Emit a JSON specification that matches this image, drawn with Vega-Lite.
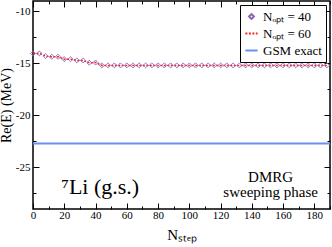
{
  "$schema": "https://vega.github.io/schema/vega-lite/v6.json",
  "width": 297,
  "height": 208,
  "autosize": {"type": "none"},
  "padding": {"left": 33, "top": 1, "right": 2, "bottom": 38},
  "background": "white",
  "config": {
    "view": {"stroke": "black", "strokeWidth": 1.5},
    "font": "Liberation Serif",
    "axis": {"labelFont": "Liberation Serif", "titleFont": "Liberation Serif", "labelColor": "black", "titleColor": "black", "tickColor": "black", "domainColor": "black", "grid": false, "titleFontWeight": "normal"},
    "legend": {"labelFont": "Liberation Serif", "labelFontSize": 13, "labelColor": "black"}
  },
  "data": {"values": [
    {"step": 0, "E": -22.7, "s": "GSM exact"},
    {"step": 190, "E": -22.7, "s": "GSM exact"},
    {"step": 0, "E": -14.04, "s": "Nₒₚₜ = 40"},
    {"step": 4, "E": -14.04, "s": "Nₒₚₜ = 40"},
    {"step": 8, "E": -14.3, "s": "Nₒₚₜ = 40"},
    {"step": 12, "E": -14.36, "s": "Nₒₚₜ = 40"},
    {"step": 16, "E": -14.36, "s": "Nₒₚₜ = 40"},
    {"step": 20, "E": -14.59, "s": "Nₒₚₜ = 40"},
    {"step": 24, "E": -14.59, "s": "Nₒₚₜ = 40"},
    {"step": 28, "E": -14.71, "s": "Nₒₚₜ = 40"},
    {"step": 32, "E": -14.71, "s": "Nₒₚₜ = 40"},
    {"step": 36, "E": -14.94, "s": "Nₒₚₜ = 40"},
    {"step": 40, "E": -14.92, "s": "Nₒₚₜ = 40"},
    {"step": 44, "E": -15.19, "s": "Nₒₚₜ = 40"},
    {"step": 48, "E": -15.19, "s": "Nₒₚₜ = 40"},
    {"step": 52, "E": -15.19, "s": "Nₒₚₜ = 40"},
    {"step": 56, "E": -15.19, "s": "Nₒₚₜ = 40"},
    {"step": 60, "E": -15.19, "s": "Nₒₚₜ = 40"},
    {"step": 64, "E": -15.19, "s": "Nₒₚₜ = 40"},
    {"step": 68, "E": -15.19, "s": "Nₒₚₜ = 40"},
    {"step": 72, "E": -15.19, "s": "Nₒₚₜ = 40"},
    {"step": 76, "E": -15.19, "s": "Nₒₚₜ = 40"},
    {"step": 80, "E": -15.19, "s": "Nₒₚₜ = 40"},
    {"step": 84, "E": -15.19, "s": "Nₒₚₜ = 40"},
    {"step": 88, "E": -15.19, "s": "Nₒₚₜ = 40"},
    {"step": 92, "E": -15.19, "s": "Nₒₚₜ = 40"},
    {"step": 96, "E": -15.19, "s": "Nₒₚₜ = 40"},
    {"step": 100, "E": -15.19, "s": "Nₒₚₜ = 40"},
    {"step": 104, "E": -15.19, "s": "Nₒₚₜ = 40"},
    {"step": 108, "E": -15.19, "s": "Nₒₚₜ = 40"},
    {"step": 112, "E": -15.19, "s": "Nₒₚₜ = 40"},
    {"step": 116, "E": -15.19, "s": "Nₒₚₜ = 40"},
    {"step": 120, "E": -15.19, "s": "Nₒₚₜ = 40"},
    {"step": 124, "E": -15.19, "s": "Nₒₚₜ = 40"},
    {"step": 128, "E": -15.19, "s": "Nₒₚₜ = 40"},
    {"step": 132, "E": -15.19, "s": "Nₒₚₜ = 40"},
    {"step": 136, "E": -15.19, "s": "Nₒₚₜ = 40"},
    {"step": 140, "E": -15.19, "s": "Nₒₚₜ = 40"},
    {"step": 144, "E": -15.19, "s": "Nₒₚₜ = 40"},
    {"step": 148, "E": -15.19, "s": "Nₒₚₜ = 40"},
    {"step": 152, "E": -15.19, "s": "Nₒₚₜ = 40"},
    {"step": 156, "E": -15.19, "s": "Nₒₚₜ = 40"},
    {"step": 160, "E": -15.19, "s": "Nₒₚₜ = 40"},
    {"step": 164, "E": -15.19, "s": "Nₒₚₜ = 40"},
    {"step": 168, "E": -15.19, "s": "Nₒₚₜ = 40"},
    {"step": 172, "E": -15.19, "s": "Nₒₚₜ = 40"},
    {"step": 176, "E": -15.19, "s": "Nₒₚₜ = 40"},
    {"step": 180, "E": -15.19, "s": "Nₒₚₜ = 40"},
    {"step": 184, "E": -15.19, "s": "Nₒₚₜ = 40"},
    {"step": 188, "E": -15.19, "s": "Nₒₚₜ = 40"},
    {"step": 0, "E": -14.04, "s": "Nₒₚₜ = 60"},
    {"step": 4, "E": -14.04, "s": "Nₒₚₜ = 60"},
    {"step": 8, "E": -14.3, "s": "Nₒₚₜ = 60"},
    {"step": 12, "E": -14.36, "s": "Nₒₚₜ = 60"},
    {"step": 16, "E": -14.36, "s": "Nₒₚₜ = 60"},
    {"step": 20, "E": -14.59, "s": "Nₒₚₜ = 60"},
    {"step": 24, "E": -14.59, "s": "Nₒₚₜ = 60"},
    {"step": 28, "E": -14.71, "s": "Nₒₚₜ = 60"},
    {"step": 32, "E": -14.71, "s": "Nₒₚₜ = 60"},
    {"step": 36, "E": -14.94, "s": "Nₒₚₜ = 60"},
    {"step": 40, "E": -14.92, "s": "Nₒₚₜ = 60"},
    {"step": 44, "E": -15.19, "s": "Nₒₚₜ = 60"},
    {"step": 48, "E": -15.19, "s": "Nₒₚₜ = 60"},
    {"step": 52, "E": -15.19, "s": "Nₒₚₜ = 60"},
    {"step": 56, "E": -15.19, "s": "Nₒₚₜ = 60"},
    {"step": 60, "E": -15.19, "s": "Nₒₚₜ = 60"},
    {"step": 64, "E": -15.19, "s": "Nₒₚₜ = 60"},
    {"step": 68, "E": -15.19, "s": "Nₒₚₜ = 60"},
    {"step": 72, "E": -15.19, "s": "Nₒₚₜ = 60"},
    {"step": 76, "E": -15.19, "s": "Nₒₚₜ = 60"},
    {"step": 80, "E": -15.19, "s": "Nₒₚₜ = 60"},
    {"step": 84, "E": -15.19, "s": "Nₒₚₜ = 60"},
    {"step": 88, "E": -15.19, "s": "Nₒₚₜ = 60"},
    {"step": 92, "E": -15.19, "s": "Nₒₚₜ = 60"},
    {"step": 96, "E": -15.19, "s": "Nₒₚₜ = 60"},
    {"step": 100, "E": -15.19, "s": "Nₒₚₜ = 60"},
    {"step": 104, "E": -15.19, "s": "Nₒₚₜ = 60"},
    {"step": 108, "E": -15.19, "s": "Nₒₚₜ = 60"},
    {"step": 112, "E": -15.19, "s": "Nₒₚₜ = 60"},
    {"step": 116, "E": -15.19, "s": "Nₒₚₜ = 60"},
    {"step": 120, "E": -15.19, "s": "Nₒₚₜ = 60"},
    {"step": 124, "E": -15.19, "s": "Nₒₚₜ = 60"},
    {"step": 128, "E": -15.19, "s": "Nₒₚₜ = 60"},
    {"step": 132, "E": -15.19, "s": "Nₒₚₜ = 60"},
    {"step": 136, "E": -15.19, "s": "Nₒₚₜ = 60"},
    {"step": 140, "E": -15.19, "s": "Nₒₚₜ = 60"},
    {"step": 144, "E": -15.19, "s": "Nₒₚₜ = 60"},
    {"step": 148, "E": -15.19, "s": "Nₒₚₜ = 60"},
    {"step": 152, "E": -15.19, "s": "Nₒₚₜ = 60"},
    {"step": 156, "E": -15.19, "s": "Nₒₚₜ = 60"},
    {"step": 160, "E": -15.19, "s": "Nₒₚₜ = 60"},
    {"step": 164, "E": -15.19, "s": "Nₒₚₜ = 60"},
    {"step": 168, "E": -15.19, "s": "Nₒₚₜ = 60"},
    {"step": 172, "E": -15.19, "s": "Nₒₚₜ = 60"},
    {"step": 176, "E": -15.19, "s": "Nₒₚₜ = 60"},
    {"step": 180, "E": -15.19, "s": "Nₒₚₜ = 60"},
    {"step": 184, "E": -15.19, "s": "Nₒₚₜ = 60"},
    {"step": 188, "E": -15.19, "s": "Nₒₚₜ = 60"}
  ]},
  "resolve": {"axis": {"x": "independent", "y": "independent"}},
  "layer": [
    {
      "transform": [{"filter": "datum.s === 'GSM exact'"}],
      "mark": {"type": "line", "strokeWidth": 2, "clip": true},
      "encoding": {
        "x": {"field": "step", "type": "quantitative", "scale": {"domain": [0, 190], "nice": false, "zero": false},
          "axis": {"orient": "bottom", "values": [0, 20, 40, 60, 80, 100, 120, 140, 160, 180], "tickSize": -6, "tickWidth": 1, "labelFontSize": 11, "labelPadding": 6, "labelFlush": false, "domain": false, "title": "Nₛₜₑₚ", "titleFontSize": 15, "titlePadding": 7}},
        "y": {"field": "E", "type": "quantitative", "scale": {"domain": [-29, -9], "nice": false, "zero": false},
          "axis": {"orient": "left", "values": [-25, -20, -15, -10], "tickSize": -6, "tickWidth": 1, "labelFontSize": 11, "labelPadding": 9, "domain": false, "labelExpr": "replace(datum.label, '−', '-')", "title": "Re(E) (MeV)", "titleFontSize": 14, "titlePadding": 2}},
        "color": {"field": "s", "type": "nominal", "scale": {"domain": ["Nₒₚₜ = 40", "Nₒₚₜ = 60", "GSM exact"], "range": ["#8b64b5", "#ff2020", "#6d8ff0"]},
          "legend": {"title": null, "orient": "top-right", "offset": 4, "strokeColor": "black", "fillColor": "white", "padding": 4, "symbolStrokeWidth": 2, "symbolSize": 150, "rowPadding": 2, "labelFontSize": 13}},
        "strokeDash": {"field": "s", "type": "nominal", "scale": {"domain": ["Nₒₚₜ = 40", "Nₒₚₜ = 60", "GSM exact"], "range": [[1, 0], [2, 1.5], [1, 0]]}, "legend": {"title": null}}
      }
    },
    {
      "transform": [{"filter": "datum.s === 'Nₒₚₜ = 60'"}],
      "mark": {"type": "line", "strokeWidth": 1.5},
      "encoding": {
        "x": {"field": "step", "type": "quantitative",
          "axis": {"orient": "bottom", "values": [10, 30, 50, 70, 90, 110, 130, 150, 170, 190], "tickSize": -3, "labels": false, "domain": false, "title": null}},
        "y": {"field": "E", "type": "quantitative",
          "axis": {"orient": "left", "values": [-27.5, -22.5, -17.5, -12.5], "tickSize": -3, "labels": false, "domain": false, "title": null}},
        "color": {"field": "s", "type": "nominal"},
        "strokeDash": {"field": "s", "type": "nominal"}
      }
    },
    {
      "transform": [{"filter": "datum.s === 'Nₒₚₜ = 40'"}],
      "mark": {"type": "point", "filled": false, "strokeWidth": 1, "size": 156, "opacity": 1},
      "encoding": {
        "x": {"field": "step", "type": "quantitative",
          "axis": {"orient": "top", "values": [0, 20, 40, 60, 80, 100, 120, 140, 160, 180], "tickSize": -6, "labels": false, "domain": false, "title": null}},
        "y": {"field": "E", "type": "quantitative",
          "axis": {"orient": "right", "values": [-25, -20, -15, -10], "tickSize": -6, "labels": false, "domain": false, "title": null}},
        "color": {"field": "s", "type": "nominal"},
        "shape": {"field": "s", "type": "nominal", "scale": {"domain": ["Nₒₚₜ = 40", "Nₒₚₜ = 60", "GSM exact"], "range": ["M0,-0.4L0.4,0L0,0.4L-0.4,0Z", "M-1,0H1", "M-1,0H1"]}, "legend": {"title": null}},
        "strokeDash": {"field": "s", "type": "nominal"}
      }
    },
    {
      "data": {"values": [{"label": "⁷Li (g.s.)"}]},
      "mark": {"type": "text", "fontSize": 22, "font": "Liberation Serif", "color": "black"},
      "encoding": {
        "x": {"datum": 43, "type": "quantitative",
          "axis": {"orient": "top", "values": [10, 30, 50, 70, 90, 110, 130, 150, 170, 190], "tickSize": -3, "labels": false, "domain": false, "title": null}},
        "y": {"datum": -26.9, "type": "quantitative",
          "axis": {"orient": "right", "values": [-27.5, -22.5, -17.5, -12.5], "tickSize": -3, "labels": false, "domain": false, "title": null}},
        "text": {"field": "label"}
      }
    },
    {
      "data": {"values": [{"label": "DMRG"}]},
      "mark": {"type": "text", "fontSize": 15, "font": "Liberation Serif", "color": "black", "lineHeight": 15},
      "encoding": {
        "x": {"datum": 152, "type": "quantitative", "axis": null},
        "y": {"datum": -25.9, "type": "quantitative", "axis": null},
        "text": {"value": ["DMRG", "sweeping phase"]}
      }
    }
  ]
}
